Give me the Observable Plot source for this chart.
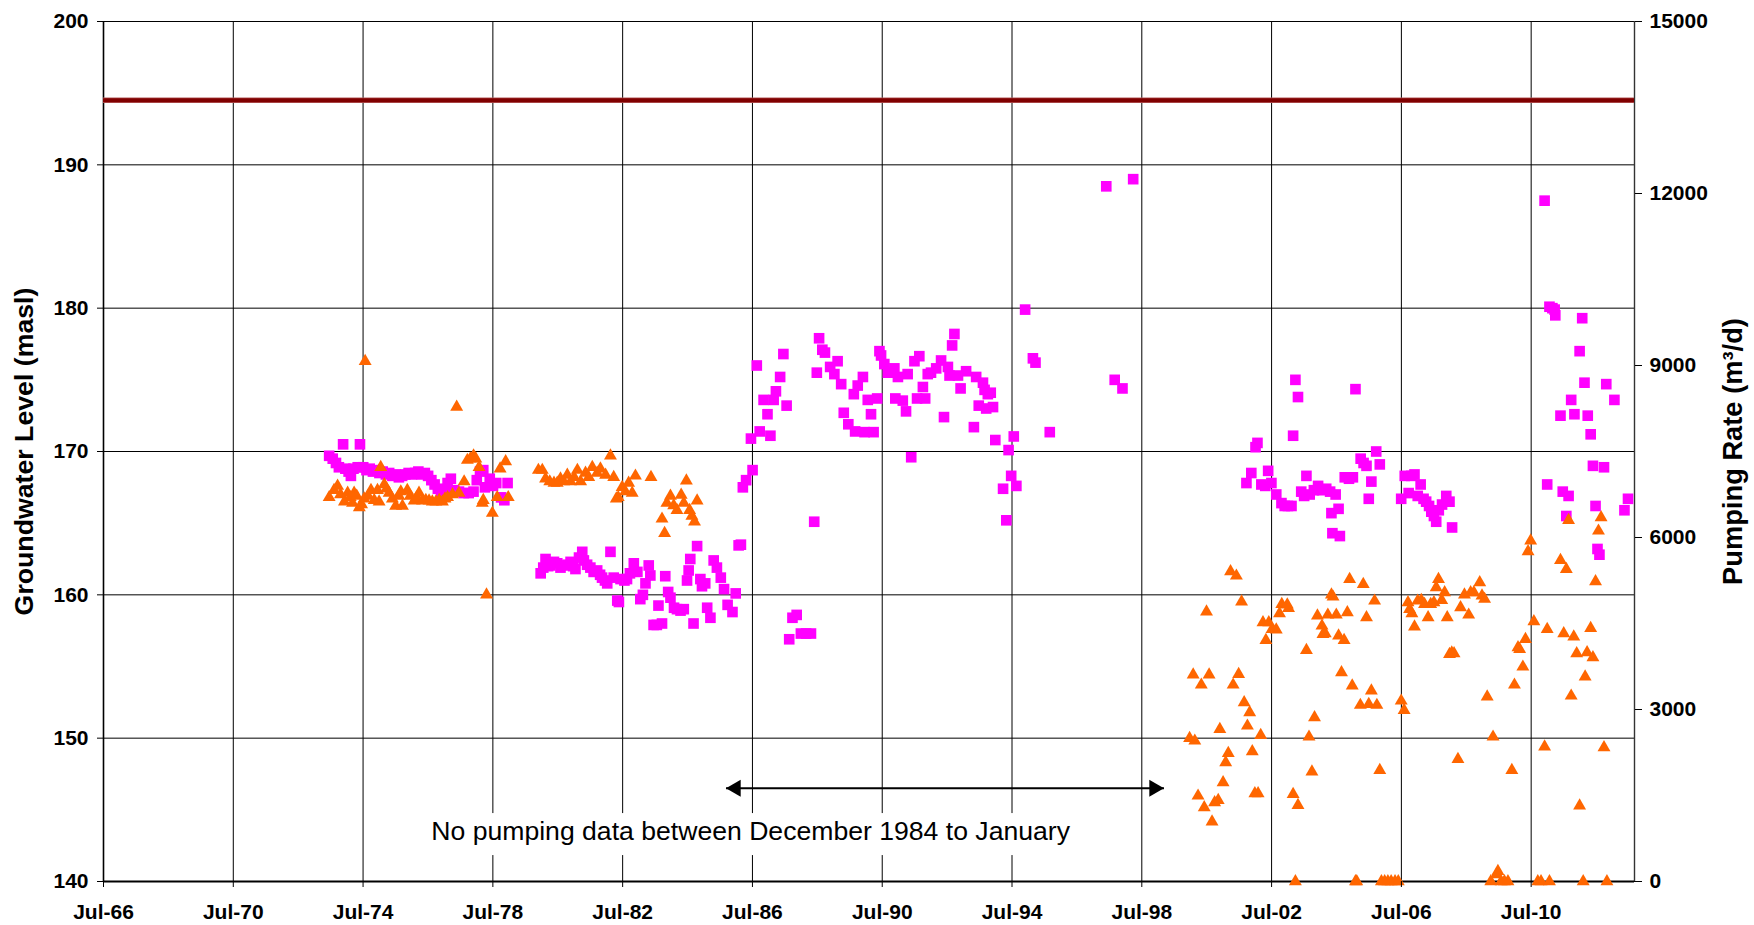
<!DOCTYPE html>
<html>
<head>
<meta charset="utf-8">
<script src="https://cdn.jsdelivr.net/npm/d3@7"></script>
<script src="https://cdn.jsdelivr.net/npm/@observablehq/plot@0.6"></script>
<style>
  html, body { margin: 0; padding: 0; background: #fff; }
  #chart svg { display: block; }
</style>
</head>
<body>
<div id="chart"></div>
<script>
// ---------- DATA (decimal year, value) ----------
// Groundwater level (masl) – magenta squares, left axis
const levelsA = [[1973.45,169.7],[1973.56,169.5],[1973.66,169.2],[1973.75,168.9],[1973.88,170.5],[1973.95,168.8],[1974.05,168.6],[1974.12,168.3],[1974.2,168.8],[1974.33,168.9],[1974.4,170.5],[1974.5,168.9],[1974.6,168.7],[1974.7,168.8],[1974.8,168.6],[1974.9,168.7],[1975.0,168.5],[1975.1,168.6],[1975.2,168.4],[1975.3,168.5],[1975.4,168.3],[1975.5,168.4],[1975.6,168.2],[1975.7,168.3],[1975.8,168.4],[1975.9,168.5],[1976.0,168.4],[1976.1,168.5],[1976.2,168.6],[1976.3,168.4],[1976.4,168.5],[1976.5,168.3],[1976.6,168.0],[1976.7,167.7],[1976.8,167.4],[1976.9,167.2],[1977.0,167.3],[1977.1,167.8],[1977.2,168.1],[1977.3,167.3],[1977.45,167.2],[1977.6,167.1],[1977.75,167.1],[1977.9,167.2],[1978.0,168.0],[1978.1,168.6],[1978.2,168.7],[1978.25,167.5],[1978.4,168.1],[1978.5,167.6],[1978.6,167.8],[1978.75,166.8],[1978.85,166.6],[1978.95,167.8]];
const levelsB = [[1979.97,161.5],[1980.05,161.9],[1980.12,162.5],[1980.2,162.0],[1980.27,162.05],[1980.38,162.3],[1980.48,162.2],[1980.58,161.9],[1980.68,162.05],[1980.8,162.1],[1980.89,162.3],[1980.97,162.0],[1981.04,161.8],[1981.15,162.6],[1981.25,163.0],[1981.3,162.4],[1981.4,162.1],[1981.5,161.9],[1981.6,161.6],[1981.71,161.7],[1981.8,161.4],[1981.86,161.2],[1981.95,161.0],[1982.02,160.8],[1982.12,163.0],[1982.22,161.2],[1982.33,159.6],[1982.38,159.5],[1982.43,161.1],[1982.55,161.0],[1982.63,161.1],[1982.72,161.5],[1982.84,162.2],[1982.95,161.6],[1983.04,159.7],[1983.12,160.0],[1983.2,160.8],[1983.3,162.05],[1983.35,161.35],[1983.45,157.9],[1983.55,157.9],[1983.6,159.25],[1983.71,158.0],[1983.81,161.3],[1983.9,160.2],[1983.97,159.8],[1984.08,159.1],[1984.17,159.0],[1984.28,158.9],[1984.38,159.0],[1984.48,161.0],[1984.53,161.7],[1984.58,162.5],[1984.68,158.0],[1984.79,163.4],[1984.89,161.1],[1984.94,160.6],[1985.04,160.8],[1985.1,159.1],[1985.2,158.4],[1985.3,162.4],[1985.4,161.9],[1985.52,161.2],[1985.62,160.4],[1985.73,159.3],[1985.88,158.8],[1985.98,160.1],[1986.07,163.45],[1986.14,163.5]];
const levelsC = [[1986.2,167.5],[1986.3,168.0],[1986.45,170.9],[1986.5,168.7],[1986.63,176.0],[1986.72,171.4],[1986.84,173.6],[1986.96,172.6],[1987.05,171.1],[1987.15,173.6],[1987.22,174.2],[1987.35,175.2],[1987.45,176.8],[1987.55,173.2],[1987.63,156.9],[1987.73,158.4],[1987.86,158.6],[1987.99,157.3],[1988.15,157.3],[1988.3,157.3],[1988.4,165.1],[1988.48,175.5],[1988.55,177.9],[1988.65,177.1],[1988.73,176.9],[1988.89,175.9],[1989.02,175.4],[1989.12,176.3],[1989.23,174.7],[1989.31,172.7],[1989.45,171.9],[1989.62,174.0],[1989.66,171.4],[1989.74,174.6],[1989.9,175.2],[1989.95,171.35],[1990.05,173.6],[1990.15,172.6],[1990.23,171.35],[1990.34,173.7],[1990.41,177.0],[1990.46,176.7],[1990.56,176.1],[1990.67,175.5],[1990.87,175.8],[1990.9,173.7],[1990.98,175.2],[1991.13,173.55],[1991.23,172.8],[1991.28,175.4],[1991.39,169.6],[1991.49,176.3],[1991.57,173.7],[1991.64,176.65],[1991.75,174.5],[1991.82,173.7],[1991.9,175.4],[1992.0,175.5],[1992.16,175.8],[1992.31,176.35],[1992.4,172.4],[1992.52,175.9],[1992.57,175.3],[1992.65,177.4],[1992.72,178.2],[1992.83,175.3],[1992.91,174.4],[1993.08,175.6],[1993.32,171.7],[1993.39,175.2],[1993.47,173.2],[1993.6,174.8],[1993.65,174.3],[1993.7,173.0],[1993.75,174.0],[1993.84,174.1],[1993.91,173.1],[1993.98,170.8],[1994.22,167.4],[1994.32,165.2],[1994.39,170.1],[1994.47,168.3],[1994.55,171.05],[1994.63,167.6],[1994.9,179.9],[1995.14,176.5],[1995.22,176.2],[1995.66,171.35],[1997.4,188.5],[1997.66,175.0],[1997.9,174.4],[1998.23,189.0]];
const levelsD = [[2001.72,167.8],[2001.87,168.5],[2002.0,170.3],[2002.06,170.6],[2002.18,167.7],[2002.3,167.6],[2002.39,168.65],[2002.49,167.8],[2002.64,167.0],[2002.8,166.4],[2002.9,166.2],[2003.0,166.2],[2003.11,166.2],[2003.16,171.1],[2003.23,175.0],[2003.31,173.8],[2003.41,167.2],[2003.5,166.9],[2003.57,168.3],[2003.67,167.0],[2003.8,167.3],[2003.93,167.6],[2004.05,167.3],[2004.18,167.4],[2004.3,167.2],[2004.34,165.7],[2004.37,164.3],[2004.47,167.0],[2004.56,166.0],[2004.6,164.1],[2004.75,168.2],[2004.88,168.1],[2005.0,168.2],[2005.08,174.35],[2005.24,169.5],[2005.33,169.2],[2005.42,169.0],[2005.49,166.7],[2005.57,167.9],[2005.72,170.0],[2005.83,169.1],[2006.49,166.7],[2006.6,168.3],[2006.72,167.1],[2006.8,168.3],[2006.9,168.4],[2007.0,166.9],[2007.09,167.7],[2007.18,166.7],[2007.26,166.5],[2007.35,166.2],[2007.42,165.8],[2007.5,165.5],[2007.57,165.1],[2007.65,165.9],[2007.75,166.3],[2007.88,166.9],[2007.98,166.5],[2008.06,164.7],[2010.91,187.5],[2010.99,167.7],[2011.06,180.1],[2011.15,180.0],[2011.22,179.9],[2011.24,179.5],[2011.4,172.5],[2011.47,167.2],[2011.58,165.5],[2011.65,166.9],[2011.73,173.6],[2011.83,172.6],[2011.99,177.0],[2012.07,179.3],[2012.14,174.8],[2012.24,172.5],[2012.33,171.2],[2012.4,169.0],[2012.48,166.2],[2012.54,163.2],[2012.6,162.8],[2012.74,168.9],[2012.81,174.7],[2013.06,173.6],[2013.37,165.9],[2013.48,166.7]];

// Pumping rate (m3/d) – orange triangles, right axis
const pumpA = [[1973.45,6700],[1973.6,6825],[1973.71,6900],[1973.8,6750],[1973.92,6625],[1974.02,6775],[1974.1,6700],[1974.17,6600],[1974.22,6775],[1974.3,6725],[1974.38,6525],[1974.45,6575],[1974.53,6675],[1974.56,9075],[1974.65,6725],[1974.74,6825],[1974.84,6650],[1974.94,6825],[1974.99,6625],[1975.04,7225],[1975.15,6925],[1975.22,6850],[1975.3,6775],[1975.4,6675],[1975.5,6550],[1975.6,6725],[1975.66,6800],[1975.71,6550],[1975.86,6825],[1975.95,6725],[1976.07,6640],[1976.15,6700],[1976.22,6775],[1976.33,6640],[1976.43,6650],[1976.53,6640],[1976.63,6625],[1976.74,6625],[1976.84,6650],[1976.94,6625],[1977.02,6675],[1977.1,6700],[1977.25,6750],[1977.38,8275],[1977.45,6775],[1977.61,6975],[1977.71,7350],[1977.8,7375],[1977.9,7425],[1977.97,7375],[1978.07,7225],[1978.17,6600],[1978.2,6650],[1978.3,5000],[1978.48,6425],[1978.63,6700],[1978.72,7200],[1978.89,7325],[1978.97,6700]];
const pumpB = [[1979.9,7175],[1980.02,7175],[1980.12,7025],[1980.25,6975],[1980.38,6950],[1980.48,6950],[1980.58,7025],[1980.68,6975],[1980.79,7090],[1980.89,6975],[1981.0,7050],[1981.1,7175],[1981.2,6975],[1981.35,7125],[1981.45,7050],[1981.56,7225],[1981.71,7125],[1981.81,7200],[1981.97,7090],[1982.12,7425],[1982.22,7050],[1982.3,6675],[1982.36,6700],[1982.48,6875],[1982.58,6800],[1982.68,6950],[1982.79,6775],[1982.89,7075],[1983.37,7050],[1983.71,6325],[1983.79,6075],[1983.86,6600],[1983.97,6725],[1984.07,6560],[1984.17,6475],[1984.3,6740],[1984.38,6600],[1984.46,6990],[1984.56,6475],[1984.63,6375],[1984.71,6275],[1984.79,6640]];
const pumpC = [[1999.97,2500],[2000.08,3605],[2000.13,2453],[2000.23,1494],[2000.33,3430],[2000.42,1291],[2000.49,4704],[2000.57,3605],[2000.66,1041],[2000.74,1378],[2000.85,1419],[2000.9,2657],[2001.0,1727],[2001.08,2076],[2001.16,2238],[2001.23,5407],[2001.31,3430],[2001.41,5331],[2001.48,3616],[2001.57,4878],[2001.65,3122],[2001.75,2715],[2001.82,2948],[2001.9,2268],[2001.98,1535],[2002.08,1535],[2002.16,2552],[2002.23,4517],[2002.32,4209],[2002.41,4517],[2002.51,4401],[2002.64,4390],[2002.74,4674],[2002.81,4837],[2002.98,4826],[2003.02,4767],[2003.16,1523],[2003.23,0],[2003.31,1331],[2003.57,4035],[2003.65,2523],[2003.74,1913],[2003.82,2860],[2003.91,4634],[2004.05,4459],[2004.08,4314],[2004.15,4326],[2004.23,4651],[2004.34,5000],[2004.39,4965],[2004.49,4651],[2004.56,4285],[2004.65,3645],[2004.73,4209],[2004.83,4692],[2004.9,5273],[2004.98,3413],[2005.08,0],[2005.12,0],[2005.23,3076],[2005.32,5186],[2005.42,4605],[2005.49,3093],[2005.57,3326],[2005.67,4895],[2005.74,3076],[2005.83,1942],[2005.88,0],[2005.98,0],[2006.08,0],[2006.18,0],[2006.3,0],[2006.4,0],[2006.49,3151],[2006.58,2988],[2006.7,4866],[2006.75,4750],[2006.82,4674],[2006.9,4442],[2007.0,4895],[2007.11,4907],[2007.21,4837],[2007.32,4605],[2007.4,4837],[2007.5,4866],[2007.57,5128],[2007.64,5273],[2007.74,4907],[2007.83,5041],[2007.91,4605],[2007.98,3965],[2008.05,3990],[2008.12,3977],[2008.24,2134],[2008.32,4779],[2008.44,5000],[2008.57,4651],[2008.63,5041],[2008.73,5041],[2008.91,5215],[2008.98,4983],[2009.06,4925],[2009.14,3221],[2009.25,0],[2009.32,2523],[2009.43,120],[2009.47,180],[2009.57,0],[2009.67,0],[2009.78,0],[2009.9,1942],[2009.98,3430],[2010.09,4081],[2010.14,4052],[2010.24,3744],[2010.32,4227],[2010.4,5756],[2010.48,5942],[2010.58,4535],[2010.7,0],[2010.8,0],[2010.91,2349],[2010.99,4401],[2011.06,0],[2011.4,5605],[2011.5,4326],[2011.58,5448],[2011.65,6300],[2011.73,3238],[2011.81,4268],[2011.9,3977],[2011.99,1320],[2012.1,0],[2012.16,3570],[2012.22,3994],[2012.33,4419],[2012.4,3907],[2012.48,5233],[2012.57,6116],[2012.65,6350],[2012.74,2337],[2012.83,0]];

// Axes / reference values
const xTickYears = [1966, 1970, 1974, 1978, 1982, 1986, 1990, 1994, 1998, 2002, 2006, 2010];
const leftTicks = [140, 150, 160, 170, 180, 190, 200];
const rightTicks = [0, 3000, 6000, 9000, 12000, 15000];
const limitLevel = [194.5];
const xDomainYears = [1966.5, 2013.68];
const annotationText = "No pumping data between December 1984 to January";
const arrowYears = [1985.68, 1999.18];
const arrowLevel = 146.51;
const textYear = 1986.44, textLevel = 143.5;
const textBox = {y1: 1976.3, y2: 1996.6, l1: 141.81, l2: 144.74};

// ---------- helpers ----------
function yearToDate(y) {
  const Y = Math.floor(y);
  const s = Date.UTC(Y, 0, 1), e = Date.UTC(Y + 1, 0, 1);
  return new Date(s + (y - Y) * (e - s));
}
const pumpToLevel = p => 140 + p / 250; // 0..15000 -> 140..200

const levels = [...levelsA, ...levelsB, ...levelsC, ...levelsD].map(([y, v]) => ({date: yearToDate(y), v}));
const pumps = [...pumpA, ...pumpB, ...pumpC].map(([y, p]) => ({date: yearToDate(y), p}));
const xTicks = xTickYears.map(y => new Date(Date.UTC(y, 6, 1)));
const xDomain = [new Date(Date.UTC(1966, 6, 1)), yearToDate(xDomainYears[1])];

const FONT = "'Liberation Sans', Arial, Helvetica, sans-serif";
const gridStroke = "#000";

const chart = Plot.plot({
  width: 1754,
  height: 925,
  marginLeft: 103,
  marginRight: 120,
  marginTop: 21,
  marginBottom: 44,
  style: {fontFamily: FONT, fontSize: "21px", fontWeight: "bold", color: "#000", background: "#fff", overflow: "visible"},
  x: {type: "utc", domain: xDomain},
  y: {domain: [140, 200]},
  marks: [
    Plot.gridX(xTicks, {stroke: gridStroke, strokeOpacity: 1, strokeWidth: 1}),
    Plot.gridY([150, 160, 170, 180, 190], {stroke: gridStroke, strokeOpacity: 1, strokeWidth: 1}),
    Plot.frame({stroke: "#000", strokeWidth: 1}),
    Plot.ruleX([xDomain[0]], {stroke: "#000", strokeWidth: 1.6}),
    Plot.ruleX([xDomain[1]], {stroke: "#333", strokeWidth: 1.4}),
    Plot.ruleY([140], {stroke: "#000", strokeWidth: 1.8}),
    Plot.ruleY(limitLevel, {stroke: "#b45a5a", strokeWidth: 5.5}),
    Plot.ruleY(limitLevel, {stroke: "#800000", strokeWidth: 4}),
    // white box behind annotation text
    Plot.rect([textBox], {x1: d => yearToDate(d.y1), x2: d => yearToDate(d.y2), y1: "l1", y2: "l2", fill: "#fff"}),
    // groundwater levels
    Plot.dot(levels, {x: "date", y: "v", symbol: "square", r: 6.0, fill: "#FF00FF"}),
    // pumping rate (on right axis scale)
    Plot.dot(pumps, {x: "date", y: d => pumpToLevel(d.p), symbol: "triangle", r: 4.8, fill: "#FF6600"}),
    // double-headed arrow
    Plot.link([arrowYears], {x1: d => yearToDate(d[0]), x2: d => yearToDate(d[1]), y1: arrowLevel, y2: arrowLevel, stroke: "#000", strokeWidth: 2}),
    Plot.dot([arrowYears[0]], {x: d => yearToDate(d), y: arrowLevel, symbol: "triangle", r: 6.3, rotate: -90, dx: 9.8, fill: "#000"}),
    Plot.dot([arrowYears[1]], {x: d => yearToDate(d), y: arrowLevel, symbol: "triangle", r: 6.3, rotate: 90, dx: -9.8, fill: "#000"}),
    Plot.text([annotationText], {x: yearToDate(textYear), y: textLevel, text: d => d, fontSize: 26.6, fontWeight: "normal", fill: "#000", textAnchor: "middle"}),
    // axes
    Plot.axisY(leftTicks, {anchor: "left", tickSize: 6, tickPadding: 9, fontSize: 21, fontWeight: "bold", label: null, tickFormat: d => String(d)}),
    Plot.axisY(rightTicks.map(pumpToLevel), {anchor: "right", tickSize: 7, tickPadding: 8, fontSize: 21, fontWeight: "bold", label: null, tickFormat: d => String(Math.round((d - 140) * 250))}),
    Plot.axisX(xTicks, {anchor: "bottom", tickSize: 6, tickPadding: 17, fontSize: 21, fontWeight: "bold", label: null, tickFormat: d3.utcFormat("%b-%y")}),
    // axis titles
    Plot.text(["Groundwater Level (masl)"], {frameAnchor: "left", dx: -79, rotate: -90, text: d => d, fontSize: 26.7, fontWeight: "bold", textAnchor: "middle", fill: "#000"}),
    Plot.text(["Pumping Rate (m³/d)"], {frameAnchor: "right", dx: 99, rotate: -90, text: d => d, fontSize: 27.3, fontWeight: "bold", textAnchor: "middle", fill: "#000"})
  ]
});
document.getElementById("chart").appendChild(chart);
</script>
</body>
</html>
